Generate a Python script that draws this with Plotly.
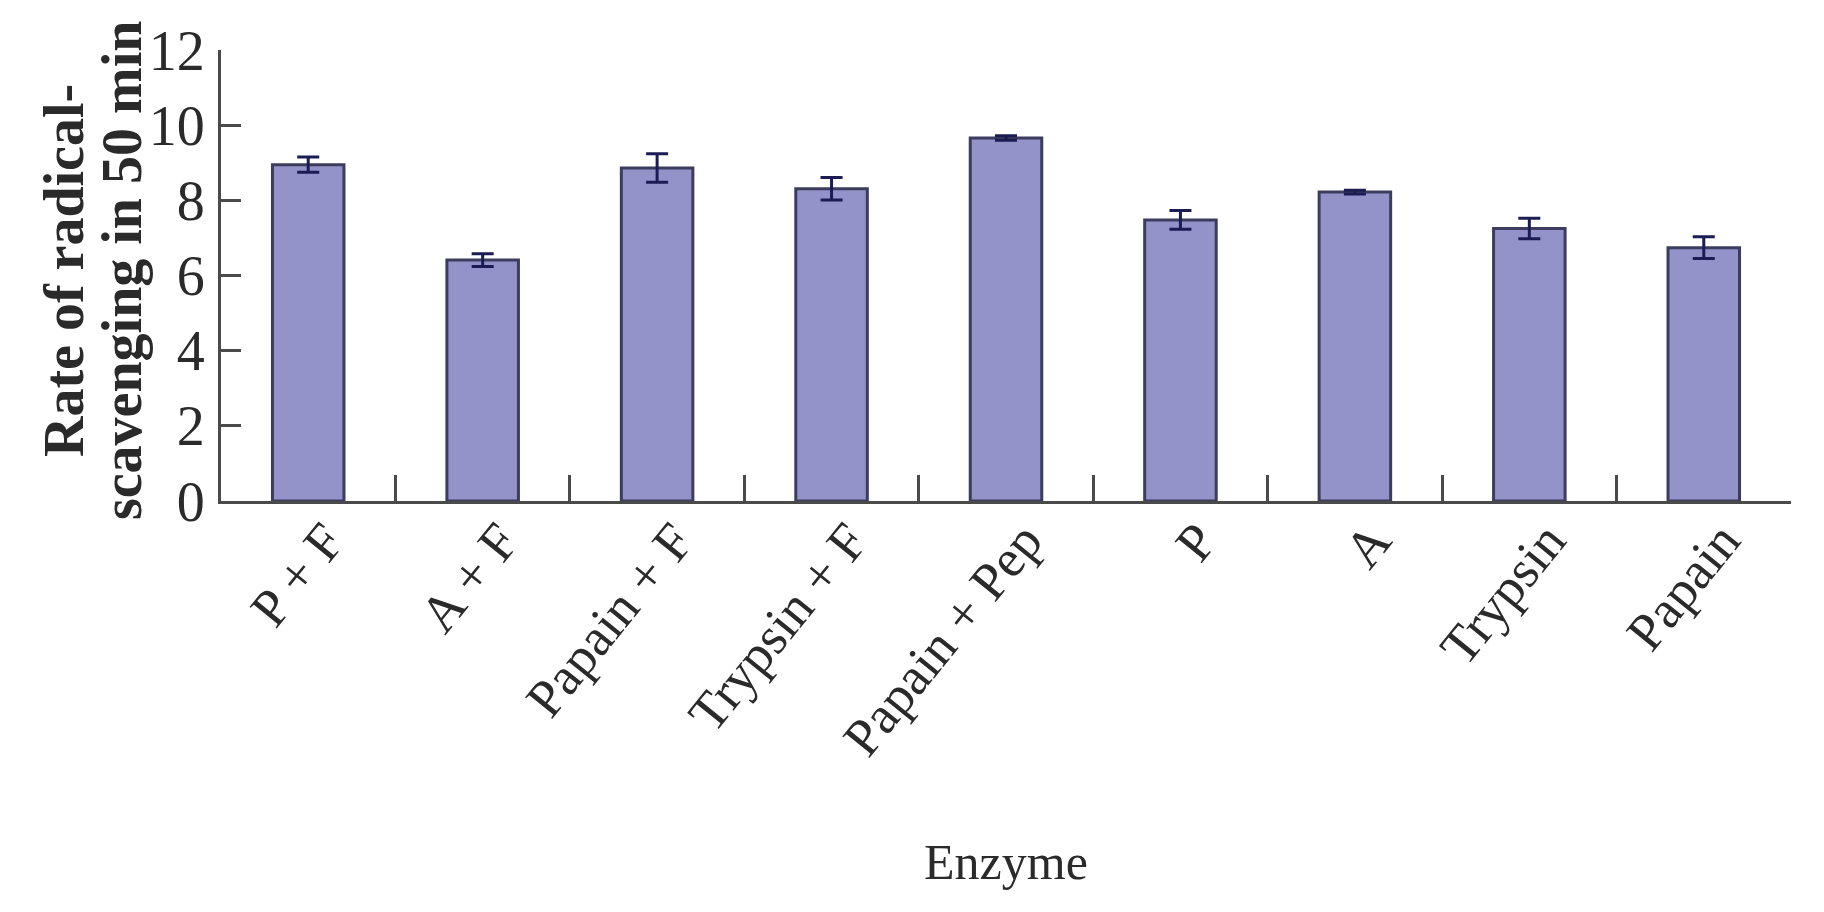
import plotly.graph_objects as go

categories = ["P + F", "A + F", "Papain + F", "Trypsin + F", "Papain + Pep",
              "P", "A", "Trypsin", "Papain"]
values = [8.95, 6.41, 8.86, 8.31, 9.66, 7.48, 8.22, 7.25, 6.74]
errors = [0.20, 0.17, 0.38, 0.30, 0.06, 0.25, 0.05, 0.27, 0.29]
y_ticks = [0, 2, 4, 6, 8, 10, 12]
y_title_lines = ["Rate of radical-", "scavenging in 50 min"]
x_title = "Enzyme"

FONT = "Liberation Serif"
TXT = "#2a2a2a"

# plot area (page px): left 221, right 1791, top 46.5, bottom 501; page body has 8px margin
L, R, T, B = 213, 41, 36, 419
PW = 1824 - L - R
PH = 912 - T - B

fig = go.Figure()
fig.add_trace(go.Bar(
    x=categories, y=values,
    marker=dict(color="#9392c9", line=dict(color="#3c3c5e", width=3)),
    error_y=dict(type="data", array=errors, visible=True,
                 color="#1c1c55", thickness=3, width=11),
    width=0.41,
))

ann = []
for xc, line in zip([64, 122], y_title_lines):
    ann.append(dict(text="<b>" + line + "</b>", xref="paper", yref="paper",
                    x=(xc - 8 - L) / PW, y=(493 - 260) / PH,
                    xanchor="center", yanchor="middle", textangle=-90,
                    showarrow=False,
                    font=dict(family=FONT, size=56, color=TXT)))
ann.append(dict(text=x_title, xref="paper", yref="paper",
                x=0.5, y=(493 - 859) / PH,
                xanchor="center", yanchor="middle", showarrow=False,
                font=dict(family=FONT, size=50, color=TXT)))

fig.update_layout(
    width=1824, height=912,
    paper_bgcolor="white", plot_bgcolor="white",
    margin=dict(l=L, r=R, t=T, b=B),
    showlegend=False,
    font=dict(family=FONT, color=TXT),
    xaxis=dict(
        type="category",
        showline=True, linecolor="#4a4a4a", linewidth=3,
        ticks="inside", tickson="boundaries", ticklen=26, tickwidth=3,
        tickcolor="#4a4a4a",
        tickangle=-51, ticklabelshift=18, ticklabelstandoff=-16,
        tickfont=dict(family=FONT, size=53, color=TXT),
        showgrid=False, zeroline=False,
    ),
    yaxis=dict(
        range=[0, 12], tickvals=y_ticks,
        showline=True, linecolor="#4a4a4a", linewidth=3,
        ticks="inside", ticklen=20, tickwidth=3, tickcolor="#4a4a4a",
        tickfont=dict(family=FONT, size=56, color=TXT),
        ticklabelstandoff=2,
        showgrid=False, zeroline=False,
    ),
    annotations=ann,
)

fig.write_html("out.html")
